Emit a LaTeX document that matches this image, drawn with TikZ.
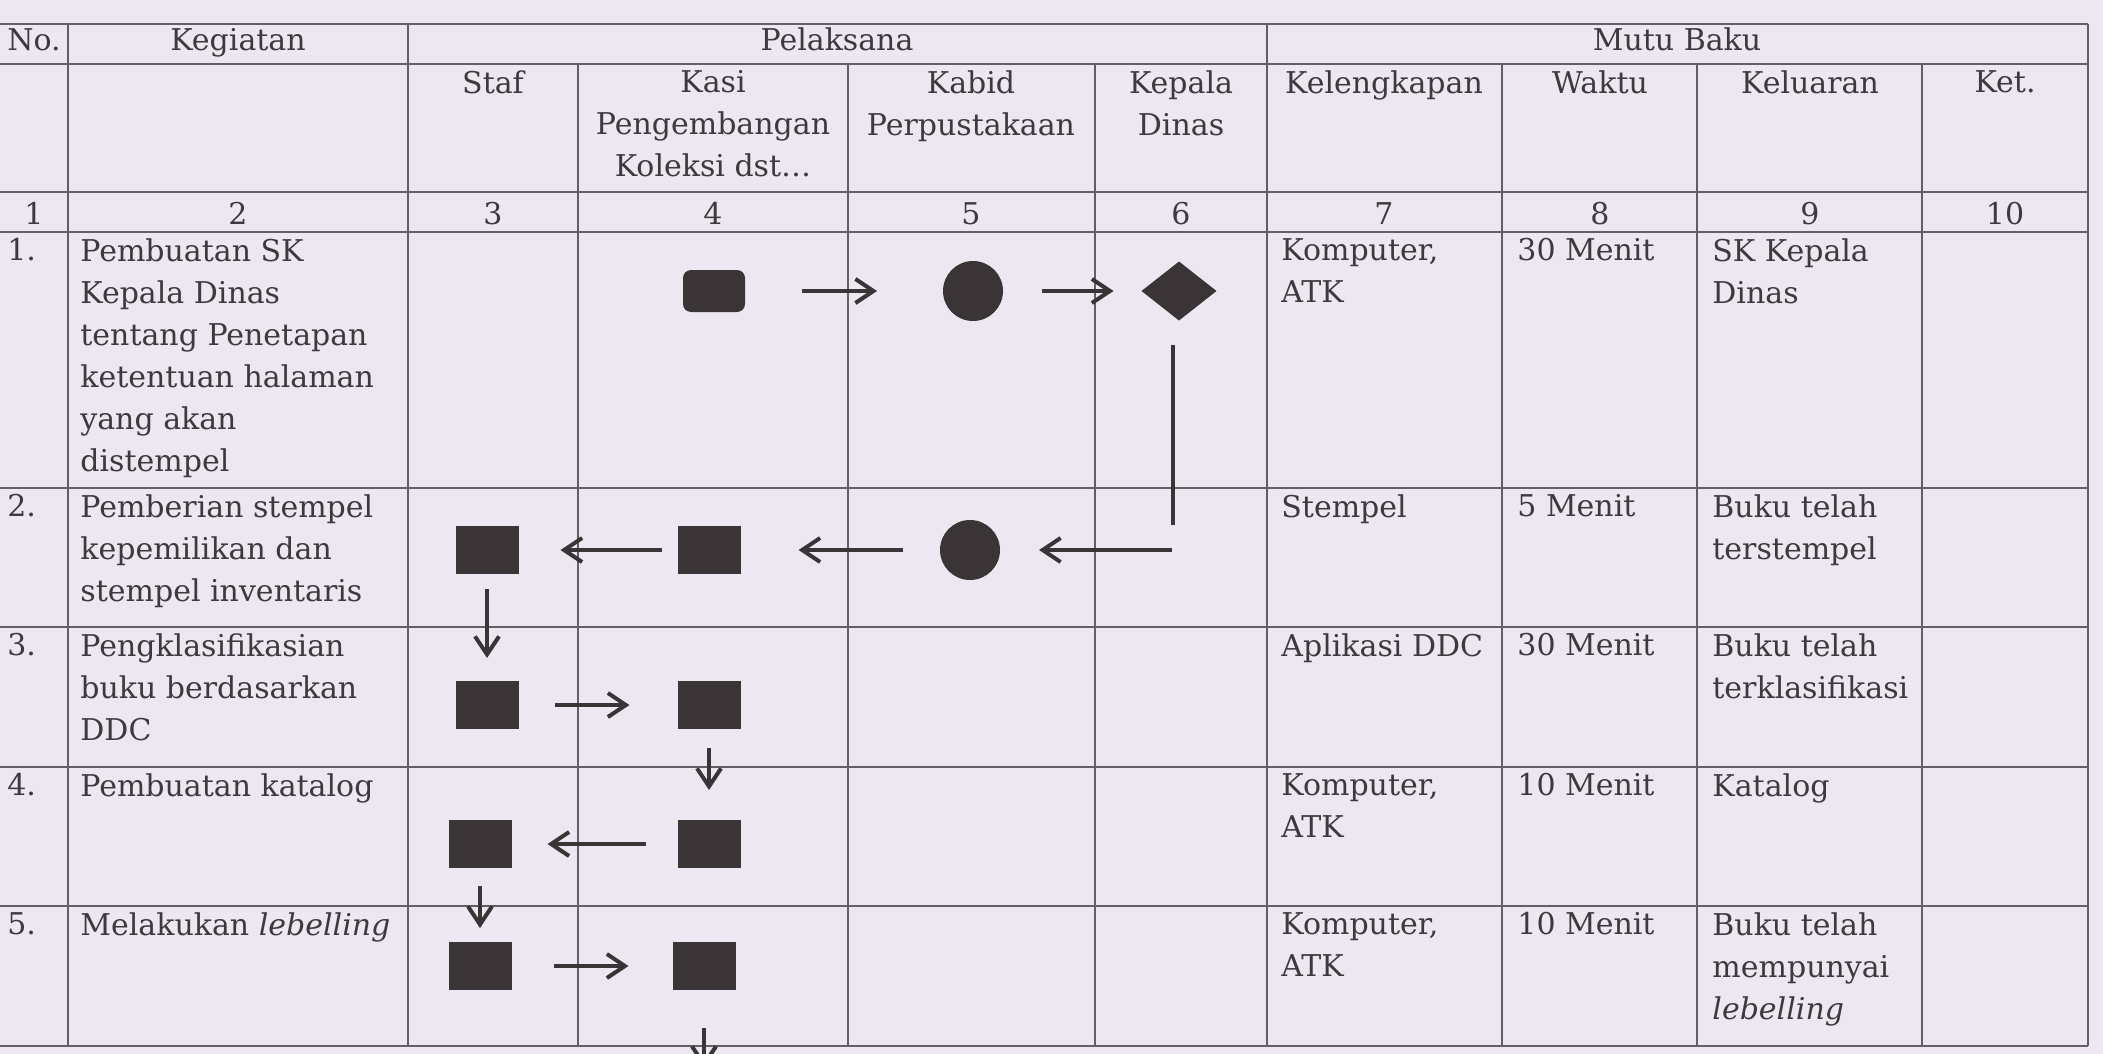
\documentclass[tikz,border=0pt]{standalone}
\usepackage{fontspec}
\setmainfont{DejaVu Serif}
\usetikzlibrary{shapes.geometric,arrows.meta}
\newlength{\px}
\setlength{\px}{0.5pt}
\definecolor{paper}{RGB}{236,232,241}
\definecolor{ink}{RGB}{62,57,60}
\definecolor{lineclr}{RGB}{100,95,100}
\definecolor{inkfill}{RGB}{58,52,54}
\tikzset{
  txt/.style={inner sep=0pt, text=ink, font=\fontsize{15}{21}\selectfont},
  cell/.style={txt, anchor=north west, align=left},
  head/.style={txt, anchor=north, align=center},
  box/.style={fill=inkfill, minimum width=31.5pt, minimum height=24pt, inner sep=0pt, outer sep=0pt},
  roundbox/.style={box, minimum width=31pt, minimum height=21pt, rounded corners=4pt},
  dot/.style={circle, fill=inkfill, minimum size=30pt, inner sep=0pt, outer sep=0pt},
  decide/.style={diamond, fill=inkfill, minimum width=37.5pt, minimum height=29.5pt, inner sep=0pt, outer sep=0pt},
  link/.style={draw=inkfill, line width=2pt},
  flow/.style={link, -{Straight Barb[length=9pt,width=12pt]}},
  hline/.style={draw=lineclr, line width=1pt},
  vline/.style={draw=lineclr, line width=0.6pt}
}

\begin{document}
\begin{tikzpicture}[x=\px,y=-\px]
        %paper
        \path[use as bounding box, fill=paper] (0,0) rectangle (2103,1054);
        \clip (0,0) rectangle (2103,1054);

        %rows of the table
        \foreach \ry in {24,64,192,232,488,627,767,906,1046}{
          \draw[hline] (0,\ry) -- (2088,\ry);
        }

        %columns of the table
        \foreach \cx in {68,408,1267,2088}{
          \draw[vline] (\cx,24) -- (\cx,1046);
        }
        \foreach \cx in {578,848,1095,1502,1697,1922}{
          \draw[vline] (\cx,64) -- (\cx,1046);
        }

        %header
        \node[txt, anchor=base] (hno) at (34,51) {No.};
        \node[txt, anchor=base] (hkeg) at (238,51) {Kegiatan};
        \node[txt, anchor=base] (hpel) at (837,51) {Pelaksana};
        \node[txt, anchor=base] (hmutu) at (1677,51) {Mutu Baku};
        \foreach \hname/\hx/\htext in {staf/493/Staf, kasi/713/{Kasi\\Pengembangan\\Koleksi dst\dots}, kabid/971/{Kabid\\Perpustakaan}, kadis/1181/{Kepala\\Dinas}, alat/1384/Kelengkapan, waktu/1600/Waktu, hasil/1810/Keluaran, ket/2005/Ket.}{
          \node[head] (h\hname) at (\hx,70) {\htext};
        }

        %column numbers
        \foreach \cnum/\cx in {1/34,2/238,3/493,4/713,5/971,6/1181,7/1384,8/1600,9/1810,10/2005}{
          \node[txt, anchor=base] (col\cnum) at (\cx,224) {\cnum};
        }

        %activities
        \foreach \rnum/\rtop/\keg/\alat/\wkt/\hsl in {
            1/232/{Pembuatan SK\\Kepala Dinas\\tentang Penetapan\\ketentuan halaman\\yang akan\\distempel}/{Komputer,\\ATK}/{30 Menit}/{SK Kepala\\Dinas},
            2/488/{Pemberian stempel\\kepemilikan dan\\stempel inventaris}/{Stempel}/{5 Menit}/{Buku telah\\terstempel},
            3/627/{Pengklasifikasian\\buku berdasarkan\\DDC}/{Aplikasi DDC}/{30 Menit}/{Buku telah\\terklasifikasi},
            4/767/{Pembuatan katalog}/{Komputer,\\ATK}/{10 Menit}/{Katalog},
            5/906/{Melakukan \textit{lebelling}}/{Komputer,\\ATK}/{10 Menit}/{Buku telah\\mempunyai\\\textit{lebelling}}}{
          \node[cell] (no\rnum) at (7,\rtop+6) {\rnum.};
          \node[cell] (keg\rnum) at (80,\rtop+6) {\keg};
          \node[cell] (alat\rnum) at (1281,\rtop+6) {\alat};
          \node[cell] (waktu\rnum) at (1517,\rtop+6) {\wkt};
          \node[cell] (hasil\rnum) at (1712,\rtop+6) {\hsl};
        }

        %flow symbols
        \node[roundbox] (kasi1) at (714,291) {};
        \node[dot] (kabid1) at (973,291) {};
        \node[decide] (kadis1) at (1179,291) {};
        \node[box] (staf2) at (487,550) {};
        \node[box] (kasi2) at (709,550) {};
        \node[dot] (kabid2) at (970,550) {};
        \node[box] (staf3) at (487,705) {};
        \node[box] (kasi3) at (709,705) {};
        \node[box] (staf4) at (480,844) {};
        \node[box] (kasi4) at (709,844) {};
        \node[box] (staf5) at (480,966) {};
        \node[box] (kasi5) at (704,966) {};
        \coordinate (kadisend) at (1173,525);
        \coordinate (kadisturn) at (1172,550);
        \coordinate (kasiout) at (704,1068);

        %connectors
        \draw[flow, shorten <=28.5pt, shorten >=33pt] (kasi1) -- (kabid1);
        \draw[flow, shorten <=19.5pt, shorten >=14pt] (kabid1) -- (kadis1);
        \draw[link, shorten <=12pt] (kadis1.south -| kadisend) -- (kadisend);
        \draw[flow, shorten >=19.5pt] (kadisturn) -- (kabid2);
        \draw[flow, shorten <=18.5pt, shorten >=29pt] (kabid2) -- (kasi2);
        \draw[flow, shorten <=8pt, shorten >=21pt] (kasi2) -- (staf2);
        \draw[flow, shorten <=7.5pt, shorten >=11.5pt] (staf2) -- (staf3);
        \draw[flow, shorten <=18pt, shorten >=24pt] (staf3) -- (kasi3);
        \draw[flow, shorten <=9.5pt, shorten >=15pt] (kasi3) -- (kasi4);
        \draw[flow, shorten <=16pt, shorten >=18pt] (kasi4) -- (staf4);
        \draw[flow, shorten <=9pt, shorten >=7pt] (staf4) -- (staf5);
        \draw[flow, shorten <=21pt, shorten >=22pt] (staf5) -- (kasi5);
        \draw[flow, shorten <=19pt] (kasi5) -- (kasiout);
\end{tikzpicture}
\end{document}
